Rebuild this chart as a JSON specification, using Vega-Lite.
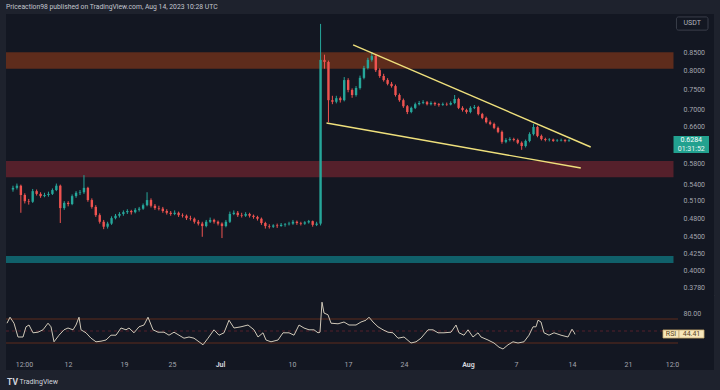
{
  "$schema": "https://vega.github.io/schema/vega-lite/v6.json",
  "background": "#1e222d",
  "padding": {"left": 5, "top": 4, "right": 7, "bottom": 5},
  "bounds": "flush",
  "spacing": 0,
  "title": {"text": "Priceaction98 published on TradingView.com, Aug 14, 2023 10:28 UTC", "anchor": "start", "frame": "group", "fontSize": 6.8, "font": "Roboto", "fontWeight": "normal", "color": "#c3c6ce", "offset": 3},
  "config": {
    "view": {"fill": "#131722", "stroke": null},
    "axis": {"labelFont": "Roboto", "titleFont": "Roboto"},
    "text": {"font": "Roboto"}
  },
  "datasets": {
    "zones": [
      {"zone": "resistance", "from": "2023-06-01T00:00", "to": "2023-08-27T06:00", "lo": 0.805, "hi": 0.852},
      {"zone": "support", "from": "2023-06-01T00:00", "to": "2023-08-27T06:00", "lo": 0.553, "hi": 0.585},
      {"zone": "demand", "from": "2023-06-01T00:00", "to": "2023-08-27T06:00", "lo": 0.411, "hi": 0.421}
    ],
    "wedge": [
      {"side": "upper", "t": "2023-07-17T15:00", "p": 0.874},
      {"side": "upper", "t": "2023-08-16T18:00", "p": 0.614},
      {"side": "lower", "t": "2023-07-14T06:00", "p": 0.667},
      {"side": "lower", "t": "2023-08-15T12:00", "p": 0.571}
    ],
    "lastPrice": [{"last": 0.6284, "countdown": "01:31:52"}],
    "rsiTag": [{"label": "RSI", "value": 44.41}],
    "rsiLevels": [{"level": 70, "kind": "band"}, {"level": 30, "kind": "band"}, {"level": 50, "kind": "middle"}],
    "candles": [
{"t":"2023-06-04T12:00","o":0.530,"h":0.537,"l":0.526,"c":0.533},
{"t":"2023-06-05T00:00","o":0.533,"h":0.541,"l":0.530,"c":0.537},
{"t":"2023-06-05T12:00","o":0.537,"h":0.539,"l":0.489,"c":0.520},
{"t":"2023-06-06T00:00","o":0.520,"h":0.523,"l":0.505,"c":0.509},
{"t":"2023-06-06T12:00","o":0.509,"h":0.513,"l":0.503,"c":0.508},
{"t":"2023-06-07T00:00","o":0.508,"h":0.531,"l":0.506,"c":0.527},
{"t":"2023-06-07T12:00","o":0.527,"h":0.530,"l":0.519,"c":0.522},
{"t":"2023-06-08T00:00","o":0.522,"h":0.525,"l":0.515,"c":0.518},
{"t":"2023-06-08T12:00","o":0.518,"h":0.524,"l":0.516,"c":0.520},
{"t":"2023-06-09T00:00","o":0.520,"h":0.526,"l":0.517,"c":0.522},
{"t":"2023-06-09T12:00","o":0.522,"h":0.532,"l":0.520,"c":0.529},
{"t":"2023-06-10T00:00","o":0.529,"h":0.541,"l":0.527,"c":0.537},
{"t":"2023-06-10T12:00","o":0.537,"h":0.539,"l":0.472,"c":0.497},
{"t":"2023-06-11T00:00","o":0.497,"h":0.509,"l":0.494,"c":0.506},
{"t":"2023-06-11T12:00","o":0.506,"h":0.509,"l":0.500,"c":0.504},
{"t":"2023-06-12T00:00","o":0.504,"h":0.521,"l":0.502,"c":0.518},
{"t":"2023-06-12T12:00","o":0.518,"h":0.527,"l":0.515,"c":0.524},
{"t":"2023-06-13T00:00","o":0.524,"h":0.529,"l":0.520,"c":0.525},
{"t":"2023-06-13T12:00","o":0.525,"h":0.557,"l":0.522,"c":0.533},
{"t":"2023-06-14T00:00","o":0.533,"h":0.535,"l":0.508,"c":0.511},
{"t":"2023-06-14T12:00","o":0.511,"h":0.514,"l":0.496,"c":0.499},
{"t":"2023-06-15T00:00","o":0.499,"h":0.502,"l":0.482,"c":0.485},
{"t":"2023-06-15T12:00","o":0.485,"h":0.488,"l":0.471,"c":0.474},
{"t":"2023-06-16T00:00","o":0.474,"h":0.477,"l":0.462,"c":0.466},
{"t":"2023-06-16T12:00","o":0.466,"h":0.474,"l":0.463,"c":0.471},
{"t":"2023-06-17T00:00","o":0.471,"h":0.483,"l":0.469,"c":0.480},
{"t":"2023-06-17T12:00","o":0.480,"h":0.487,"l":0.478,"c":0.484},
{"t":"2023-06-18T00:00","o":0.484,"h":0.490,"l":0.481,"c":0.487},
{"t":"2023-06-18T12:00","o":0.487,"h":0.493,"l":0.484,"c":0.490},
{"t":"2023-06-19T00:00","o":0.490,"h":0.495,"l":0.487,"c":0.492},
{"t":"2023-06-19T12:00","o":0.492,"h":0.494,"l":0.486,"c":0.490},
{"t":"2023-06-20T00:00","o":0.490,"h":0.497,"l":0.488,"c":0.494},
{"t":"2023-06-20T12:00","o":0.494,"h":0.499,"l":0.491,"c":0.496},
{"t":"2023-06-21T00:00","o":0.496,"h":0.505,"l":0.494,"c":0.502},
{"t":"2023-06-21T12:00","o":0.502,"h":0.525,"l":0.500,"c":0.511},
{"t":"2023-06-22T00:00","o":0.511,"h":0.514,"l":0.498,"c":0.501},
{"t":"2023-06-22T12:00","o":0.501,"h":0.504,"l":0.494,"c":0.497},
{"t":"2023-06-23T00:00","o":0.497,"h":0.501,"l":0.493,"c":0.496},
{"t":"2023-06-23T12:00","o":0.496,"h":0.499,"l":0.489,"c":0.492},
{"t":"2023-06-24T00:00","o":0.492,"h":0.495,"l":0.486,"c":0.489},
{"t":"2023-06-24T12:00","o":0.489,"h":0.492,"l":0.484,"c":0.487},
{"t":"2023-06-25T00:00","o":0.487,"h":0.493,"l":0.485,"c":0.489},
{"t":"2023-06-25T12:00","o":0.489,"h":0.491,"l":0.482,"c":0.485},
{"t":"2023-06-26T00:00","o":0.485,"h":0.488,"l":0.481,"c":0.484},
{"t":"2023-06-26T12:00","o":0.484,"h":0.486,"l":0.477,"c":0.480},
{"t":"2023-06-27T00:00","o":0.480,"h":0.484,"l":0.476,"c":0.479},
{"t":"2023-06-27T12:00","o":0.479,"h":0.481,"l":0.471,"c":0.474},
{"t":"2023-06-28T00:00","o":0.474,"h":0.477,"l":0.468,"c":0.471},
{"t":"2023-06-28T12:00","o":0.471,"h":0.474,"l":0.450,"c":0.467},
{"t":"2023-06-29T00:00","o":0.467,"h":0.477,"l":0.465,"c":0.474},
{"t":"2023-06-29T12:00","o":0.474,"h":0.481,"l":0.472,"c":0.477},
{"t":"2023-06-30T00:00","o":0.477,"h":0.479,"l":0.471,"c":0.474},
{"t":"2023-06-30T12:00","o":0.474,"h":0.476,"l":0.468,"c":0.471},
{"t":"2023-07-01T00:00","o":0.471,"h":0.473,"l":0.448,"c":0.467},
{"t":"2023-07-01T12:00","o":0.467,"h":0.477,"l":0.465,"c":0.474},
{"t":"2023-07-02T00:00","o":0.474,"h":0.491,"l":0.472,"c":0.487},
{"t":"2023-07-02T12:00","o":0.487,"h":0.493,"l":0.485,"c":0.489},
{"t":"2023-07-03T00:00","o":0.489,"h":0.492,"l":0.482,"c":0.485},
{"t":"2023-07-03T12:00","o":0.485,"h":0.489,"l":0.481,"c":0.484},
{"t":"2023-07-04T00:00","o":0.484,"h":0.490,"l":0.482,"c":0.487},
{"t":"2023-07-04T12:00","o":0.487,"h":0.489,"l":0.481,"c":0.484},
{"t":"2023-07-05T00:00","o":0.484,"h":0.486,"l":0.479,"c":0.482},
{"t":"2023-07-05T12:00","o":0.482,"h":0.484,"l":0.476,"c":0.479},
{"t":"2023-07-06T00:00","o":0.479,"h":0.481,"l":0.469,"c":0.472},
{"t":"2023-07-06T12:00","o":0.472,"h":0.474,"l":0.463,"c":0.467},
{"t":"2023-07-07T00:00","o":0.467,"h":0.470,"l":0.463,"c":0.466},
{"t":"2023-07-07T12:00","o":0.466,"h":0.470,"l":0.464,"c":0.468},
{"t":"2023-07-08T00:00","o":0.468,"h":0.471,"l":0.464,"c":0.467},
{"t":"2023-07-08T12:00","o":0.467,"h":0.472,"l":0.466,"c":0.469},
{"t":"2023-07-09T00:00","o":0.469,"h":0.472,"l":0.466,"c":0.470},
{"t":"2023-07-09T12:00","o":0.470,"h":0.474,"l":0.468,"c":0.471},
{"t":"2023-07-10T00:00","o":0.471,"h":0.477,"l":0.469,"c":0.474},
{"t":"2023-07-10T12:00","o":0.474,"h":0.476,"l":0.469,"c":0.472},
{"t":"2023-07-11T00:00","o":0.472,"h":0.474,"l":0.468,"c":0.471},
{"t":"2023-07-11T12:00","o":0.471,"h":0.475,"l":0.469,"c":0.473},
{"t":"2023-07-12T00:00","o":0.473,"h":0.477,"l":0.471,"c":0.475},
{"t":"2023-07-12T12:00","o":0.475,"h":0.476,"l":0.466,"c":0.469},
{"t":"2023-07-13T00:00","o":0.469,"h":0.474,"l":0.467,"c":0.471},
{"t":"2023-07-13T12:00","o":0.471,"h":0.940,"l":0.468,"c":0.830},
{"t":"2023-07-14T00:00","o":0.830,"h":0.845,"l":0.805,"c":0.824},
{"t":"2023-07-14T12:00","o":0.824,"h":0.828,"l":0.669,"c":0.722},
{"t":"2023-07-15T00:00","o":0.722,"h":0.733,"l":0.712,"c":0.718},
{"t":"2023-07-15T12:00","o":0.718,"h":0.733,"l":0.714,"c":0.727},
{"t":"2023-07-16T00:00","o":0.727,"h":0.731,"l":0.716,"c":0.722},
{"t":"2023-07-16T12:00","o":0.722,"h":0.782,"l":0.719,"c":0.774},
{"t":"2023-07-17T00:00","o":0.774,"h":0.779,"l":0.742,"c":0.748},
{"t":"2023-07-17T12:00","o":0.748,"h":0.752,"l":0.728,"c":0.735},
{"t":"2023-07-18T00:00","o":0.735,"h":0.758,"l":0.731,"c":0.753},
{"t":"2023-07-18T12:00","o":0.753,"h":0.786,"l":0.749,"c":0.780},
{"t":"2023-07-19T00:00","o":0.780,"h":0.813,"l":0.776,"c":0.807},
{"t":"2023-07-19T12:00","o":0.807,"h":0.836,"l":0.803,"c":0.830},
{"t":"2023-07-20T00:00","o":0.830,"h":0.853,"l":0.825,"c":0.841},
{"t":"2023-07-20T12:00","o":0.841,"h":0.846,"l":0.796,"c":0.801},
{"t":"2023-07-21T00:00","o":0.801,"h":0.806,"l":0.780,"c":0.785},
{"t":"2023-07-21T12:00","o":0.785,"h":0.791,"l":0.770,"c":0.774},
{"t":"2023-07-22T00:00","o":0.774,"h":0.779,"l":0.760,"c":0.764},
{"t":"2023-07-22T12:00","o":0.764,"h":0.769,"l":0.754,"c":0.758},
{"t":"2023-07-23T00:00","o":0.758,"h":0.762,"l":0.731,"c":0.735},
{"t":"2023-07-23T12:00","o":0.735,"h":0.739,"l":0.718,"c":0.722},
{"t":"2023-07-24T00:00","o":0.722,"h":0.726,"l":0.703,"c":0.707},
{"t":"2023-07-24T12:00","o":0.707,"h":0.710,"l":0.688,"c":0.693},
{"t":"2023-07-25T00:00","o":0.693,"h":0.706,"l":0.690,"c":0.703},
{"t":"2023-07-25T12:00","o":0.703,"h":0.716,"l":0.700,"c":0.712},
{"t":"2023-07-26T00:00","o":0.712,"h":0.720,"l":0.709,"c":0.715},
{"t":"2023-07-26T12:00","o":0.715,"h":0.722,"l":0.712,"c":0.717},
{"t":"2023-07-27T00:00","o":0.717,"h":0.720,"l":0.709,"c":0.712},
{"t":"2023-07-27T12:00","o":0.712,"h":0.719,"l":0.709,"c":0.715},
{"t":"2023-07-28T00:00","o":0.715,"h":0.718,"l":0.708,"c":0.712},
{"t":"2023-07-28T12:00","o":0.712,"h":0.715,"l":0.706,"c":0.710},
{"t":"2023-07-29T00:00","o":0.710,"h":0.716,"l":0.708,"c":0.712},
{"t":"2023-07-29T12:00","o":0.712,"h":0.716,"l":0.708,"c":0.711},
{"t":"2023-07-30T00:00","o":0.711,"h":0.719,"l":0.709,"c":0.715},
{"t":"2023-07-30T12:00","o":0.715,"h":0.735,"l":0.712,"c":0.725},
{"t":"2023-07-31T00:00","o":0.725,"h":0.728,"l":0.700,"c":0.703},
{"t":"2023-07-31T12:00","o":0.703,"h":0.707,"l":0.694,"c":0.698},
{"t":"2023-08-01T00:00","o":0.698,"h":0.701,"l":0.689,"c":0.693},
{"t":"2023-08-01T12:00","o":0.693,"h":0.707,"l":0.690,"c":0.703},
{"t":"2023-08-02T00:00","o":0.703,"h":0.710,"l":0.700,"c":0.705},
{"t":"2023-08-02T12:00","o":0.705,"h":0.708,"l":0.685,"c":0.688},
{"t":"2023-08-03T00:00","o":0.688,"h":0.691,"l":0.676,"c":0.679},
{"t":"2023-08-03T12:00","o":0.679,"h":0.682,"l":0.666,"c":0.669},
{"t":"2023-08-04T00:00","o":0.669,"h":0.673,"l":0.662,"c":0.665},
{"t":"2023-08-04T12:00","o":0.665,"h":0.668,"l":0.653,"c":0.656},
{"t":"2023-08-05T00:00","o":0.656,"h":0.659,"l":0.644,"c":0.647},
{"t":"2023-08-05T12:00","o":0.647,"h":0.650,"l":0.621,"c":0.625},
{"t":"2023-08-06T00:00","o":0.625,"h":0.633,"l":0.622,"c":0.629},
{"t":"2023-08-06T12:00","o":0.629,"h":0.635,"l":0.626,"c":0.631},
{"t":"2023-08-07T00:00","o":0.631,"h":0.634,"l":0.626,"c":0.629},
{"t":"2023-08-07T12:00","o":0.629,"h":0.632,"l":0.620,"c":0.623},
{"t":"2023-08-08T00:00","o":0.623,"h":0.626,"l":0.608,"c":0.616},
{"t":"2023-08-08T12:00","o":0.616,"h":0.630,"l":0.613,"c":0.627},
{"t":"2023-08-09T00:00","o":0.627,"h":0.646,"l":0.624,"c":0.642},
{"t":"2023-08-09T12:00","o":0.642,"h":0.665,"l":0.639,"c":0.658},
{"t":"2023-08-10T00:00","o":0.658,"h":0.661,"l":0.635,"c":0.638},
{"t":"2023-08-10T12:00","o":0.638,"h":0.641,"l":0.628,"c":0.631},
{"t":"2023-08-11T00:00","o":0.631,"h":0.634,"l":0.626,"c":0.629},
{"t":"2023-08-11T12:00","o":0.629,"h":0.633,"l":0.626,"c":0.630},
{"t":"2023-08-12T00:00","o":0.630,"h":0.632,"l":0.625,"c":0.627},
{"t":"2023-08-12T12:00","o":0.627,"h":0.631,"l":0.625,"c":0.628},
{"t":"2023-08-13T00:00","o":0.628,"h":0.632,"l":0.626,"c":0.629},
{"t":"2023-08-13T12:00","o":0.629,"h":0.631,"l":0.624,"c":0.627},
{"t":"2023-08-14T00:00","o":0.627,"h":0.631,"l":0.625,"c":0.6284}
    ],
    "rsi": [
{"t":"2023-06-04T09:00","rsi":63},{"t":"2023-06-04T18:00","rsi":73},{"t":"2023-06-05T06:00","rsi":63},{"t":"2023-06-05T18:00","rsi":40},
{"t":"2023-06-06T09:00","rsi":40},{"t":"2023-06-06T18:00","rsi":57},{"t":"2023-06-07T03:00","rsi":60},{"t":"2023-06-07T15:00","rsi":47},
{"t":"2023-06-08T06:00","rsi":48},{"t":"2023-06-08T21:00","rsi":52},{"t":"2023-06-09T12:00","rsi":63},{"t":"2023-06-09T21:00","rsi":57},
{"t":"2023-06-10T06:00","rsi":32},{"t":"2023-06-10T21:00","rsi":43},{"t":"2023-06-11T12:00","rsi":52},{"t":"2023-06-12T00:00","rsi":55},
{"t":"2023-06-12T15:00","rsi":52},{"t":"2023-06-13T00:00","rsi":60},{"t":"2023-06-13T09:00","rsi":73},{"t":"2023-06-13T15:00","rsi":52},
{"t":"2023-06-14T06:00","rsi":47},{"t":"2023-06-14T21:00","rsi":38},{"t":"2023-06-15T12:00","rsi":32},{"t":"2023-06-16T03:00","rsi":33},
{"t":"2023-06-16T18:00","rsi":35},{"t":"2023-06-17T09:00","rsi":43},{"t":"2023-06-18T00:00","rsi":43},{"t":"2023-06-18T15:00","rsi":55},
{"t":"2023-06-19T06:00","rsi":52},{"t":"2023-06-19T15:00","rsi":55},{"t":"2023-06-20T06:00","rsi":47},{"t":"2023-06-20T21:00","rsi":57},
{"t":"2023-06-21T12:00","rsi":60},{"t":"2023-06-22T00:00","rsi":73},{"t":"2023-06-22T15:00","rsi":52},{"t":"2023-06-23T06:00","rsi":48},
{"t":"2023-06-24T00:00","rsi":48},{"t":"2023-06-24T15:00","rsi":43},{"t":"2023-06-25T06:00","rsi":48},{"t":"2023-06-25T21:00","rsi":43},
{"t":"2023-06-26T12:00","rsi":38},{"t":"2023-06-27T03:00","rsi":40},{"t":"2023-06-27T18:00","rsi":38},{"t":"2023-06-28T09:00","rsi":32},
{"t":"2023-06-28T21:00","rsi":27},{"t":"2023-06-29T12:00","rsi":38},{"t":"2023-06-30T06:00","rsi":52},{"t":"2023-06-30T21:00","rsi":43},
{"t":"2023-07-01T12:00","rsi":47},{"t":"2023-07-02T03:00","rsi":68},{"t":"2023-07-02T18:00","rsi":55},{"t":"2023-07-03T15:00","rsi":57},
{"t":"2023-07-04T12:00","rsi":60},{"t":"2023-07-05T06:00","rsi":52},{"t":"2023-07-05T18:00","rsi":40},{"t":"2023-07-06T09:00","rsi":47},
{"t":"2023-07-06T18:00","rsi":35},{"t":"2023-07-07T09:00","rsi":32},{"t":"2023-07-08T06:00","rsi":35},{"t":"2023-07-08T21:00","rsi":47},
{"t":"2023-07-09T15:00","rsi":47},{"t":"2023-07-10T06:00","rsi":43},{"t":"2023-07-10T21:00","rsi":60},{"t":"2023-07-11T12:00","rsi":55},
{"t":"2023-07-12T03:00","rsi":52},{"t":"2023-07-12T18:00","rsi":52},{"t":"2023-07-13T06:00","rsi":47},{"t":"2023-07-13T12:00","rsi":48},
{"t":"2023-07-13T18:00","rsi":98},{"t":"2023-07-14T00:00","rsi":80},{"t":"2023-07-14T12:00","rsi":77},{"t":"2023-07-14T21:00","rsi":63},
{"t":"2023-07-15T18:00","rsi":62},{"t":"2023-07-16T12:00","rsi":65},{"t":"2023-07-17T03:00","rsi":60},{"t":"2023-07-18T00:00","rsi":60},
{"t":"2023-07-18T15:00","rsi":65},{"t":"2023-07-19T06:00","rsi":68},{"t":"2023-07-19T15:00","rsi":73},{"t":"2023-07-20T03:00","rsi":65},
{"t":"2023-07-20T18:00","rsi":57},{"t":"2023-07-21T09:00","rsi":52},{"t":"2023-07-22T00:00","rsi":48},{"t":"2023-07-22T15:00","rsi":47},
{"t":"2023-07-23T06:00","rsi":38},{"t":"2023-07-24T00:00","rsi":40},{"t":"2023-07-24T21:00","rsi":30},{"t":"2023-07-25T12:00","rsi":32},
{"t":"2023-07-26T03:00","rsi":38},{"t":"2023-07-27T00:00","rsi":52},{"t":"2023-07-27T15:00","rsi":52},{"t":"2023-07-28T06:00","rsi":47},
{"t":"2023-07-29T00:00","rsi":47},{"t":"2023-07-29T21:00","rsi":48},{"t":"2023-07-30T12:00","rsi":60},{"t":"2023-07-30T21:00","rsi":47},
{"t":"2023-07-31T12:00","rsi":43},{"t":"2023-08-01T00:00","rsi":52},{"t":"2023-08-01T15:00","rsi":40},{"t":"2023-08-02T06:00","rsi":47},
{"t":"2023-08-02T15:00","rsi":40},{"t":"2023-08-03T12:00","rsi":35},{"t":"2023-08-04T06:00","rsi":30},{"t":"2023-08-04T21:00","rsi":23},
{"t":"2023-08-05T09:00","rsi":20},{"t":"2023-08-06T00:00","rsi":27},{"t":"2023-08-06T15:00","rsi":32},{"t":"2023-08-07T06:00","rsi":30},
{"t":"2023-08-08T00:00","rsi":32},{"t":"2023-08-08T15:00","rsi":43},{"t":"2023-08-09T03:00","rsi":57},{"t":"2023-08-09T12:00","rsi":57},
{"t":"2023-08-09T18:00","rsi":68},{"t":"2023-08-10T03:00","rsi":65},{"t":"2023-08-10T12:00","rsi":47},{"t":"2023-08-11T03:00","rsi":43},
{"t":"2023-08-11T18:00","rsi":47},{"t":"2023-08-12T15:00","rsi":43},{"t":"2023-08-13T12:00","rsi":40},{"t":"2023-08-14T00:00","rsi":53},
{"t":"2023-08-14T06:00","rsi":48},{"t":"2023-08-14T09:00","rsi":44.41}
    ]
  },
  "vconcat": [
    {
      "width": 708,
      "height": 281,
      "layer": [
        {
          "data": {"name": "zones"},
          "mark": {"type": "rect", "clip": true},
          "encoding": {
            "x": {"field": "from", "type": "temporal",
              "scale": {"domain": [{"year": 2023, "month": 6, "date": 4, "hours": 6}, {"year": 2023, "month": 8, "date": 31, "hours": 18}], "nice": false},
              "axis": {"labels": false, "ticks": false, "grid": false, "domain": true, "domainColor": "#2a2e39", "domainWidth": 1,
                "title": "TV", "titleX": 6, "titleY": 86, "titleAlign": "center", "titleBaseline": "middle", "titleFontSize": 8.5, "titleFontWeight": "bold", "titleColor": "#d1d4dc"}},
            "x2": {"field": "to"},
            "y": {"field": "lo", "type": "quantitative",
              "scale": {"type": "log", "domain": [0.3679, 0.9728], "nice": false},
              "axis": {"orient": "right", "values": [0.378, 0.4, 0.425, 0.45, 0.48, 0.51, 0.54, 0.58, 0.66, 0.7, 0.75, 0.8, 0.85], "format": ".4f",
                "labelAlign": "left", "labelBaseline": "middle", "labelPadding": -31, "ticks": false, "tickSize": 0, "domain": false, "grid": false, "title": null,
                "labelColor": "#a3a6af", "labelFontSize": 7, "labelOverlap": false, "labelBound": false, "labelFlush": false}},
            "y2": {"field": "hi"},
            "color": {"field": "zone", "type": "nominal", "scale": {"domain": ["resistance", "support", "demand"], "range": ["#5e2c1c", "#55202b", "#10606a"]}, "legend": null}
          }
        },
        {
          "data": {"name": "candles"},
          "mark": {"type": "rule", "strokeWidth": 1},
          "encoding": {
            "x": {"field": "t", "type": "temporal"},
            "y": {"field": "l", "type": "quantitative"},
            "y2": {"field": "h"},
            "color": {"condition": {"test": "datum.c >= datum.o", "value": "#26a69a"}, "value": "#ef5350"}
          }
        },
        {
          "data": {"name": "candles"},
          "mark": {"type": "bar", "width": 2.4},
          "encoding": {
            "x": {"field": "t", "type": "temporal"},
            "y": {"field": "o", "type": "quantitative"},
            "y2": {"field": "c"},
            "color": {"condition": {"test": "datum.c >= datum.o", "value": "#26a69a"}, "value": "#ef5350"}
          }
        },
        {
          "data": {"name": "wedge"},
          "mark": {"type": "line", "color": "#efe07c", "strokeWidth": 1.4},
          "encoding": {
            "x": {"field": "t", "type": "temporal"},
            "y": {"field": "p", "type": "quantitative"},
            "detail": {"field": "side"}
          }
        },
        {
          "data": {"name": "lastPrice"},
          "mark": {"type": "rect", "color": "#22a18f"},
          "encoding": {
            "x": {"datum": {"year": 2023, "month": 8, "date": 27, "hours": 6}, "type": "temporal"},
            "x2": {"datum": {"year": 2023, "month": 8, "date": 31, "hours": 18}},
            "y": {"datum": 0.6378, "type": "quantitative"},
            "y2": {"datum": 0.6014}
          }
        },
        {
          "data": {"name": "lastPrice"},
          "mark": {"type": "text", "color": "#ffffff", "fontSize": 7, "align": "center", "baseline": "middle"},
          "encoding": {
            "x": {"datum": {"year": 2023, "month": 8, "date": 29, "hours": 12}, "type": "temporal"},
            "y": {"field": "last", "type": "quantitative"},
            "text": {"field": "last", "type": "quantitative", "format": ".4f"}
          }
        },
        {
          "data": {"name": "lastPrice"},
          "mark": {"type": "text", "color": "#e8f5f2", "fontSize": 7, "align": "center", "baseline": "middle", "dy": 8.5},
          "encoding": {
            "x": {"datum": {"year": 2023, "month": 8, "date": 29, "hours": 12}, "type": "temporal"},
            "y": {"field": "last", "type": "quantitative"},
            "text": {"field": "countdown", "type": "nominal"}
          }
        },
        {
          "data": {"values": [{"unit": "USDT"}]},
          "mark": {"type": "rect", "fill": null, "stroke": "#3a3e4a", "strokeWidth": 1, "cornerRadius": 2},
          "encoding": {
            "x": {"datum": {"year": 2023, "month": 8, "date": 27, "hours": 15}, "type": "temporal"},
            "x2": {"datum": {"year": 2023, "month": 8, "date": 31, "hours": 15}},
            "y": {"datum": 0.963, "type": "quantitative"},
            "y2": {"datum": 0.920}
          }
        },
        {
          "data": {"values": [{"unit": "USDT"}]},
          "mark": {"type": "text", "color": "#b2b5be", "fontSize": 7, "align": "center", "baseline": "middle"},
          "encoding": {
            "x": {"datum": {"year": 2023, "month": 8, "date": 29, "hours": 15}, "type": "temporal"},
            "y": {"datum": 0.9414, "type": "quantitative"},
            "text": {"field": "unit", "type": "nominal"}
          }
        }
      ]
    },
    {
      "width": 708,
      "height": 75,
      "layer": [
        {
          "data": {"name": "rsiLevels"},
          "mark": {"type": "rule", "strokeWidth": 1},
          "encoding": {
            "x": {"datum": {"year": 2023, "month": 6, "date": 4, "hours": 6}, "type": "temporal",
              "scale": {"domain": [{"year": 2023, "month": 6, "date": 4, "hours": 6}, {"year": 2023, "month": 8, "date": 31, "hours": 18}], "nice": false},
              "axis": {"orient": "bottom",
                "values": [
                  {"year": 2023, "month": 6, "date": 6, "hours": 12},
                  {"year": 2023, "month": 6, "date": 12},
                  {"year": 2023, "month": 6, "date": 19},
                  {"year": 2023, "month": 6, "date": 25},
                  {"year": 2023, "month": 7, "date": 1},
                  {"year": 2023, "month": 7, "date": 10},
                  {"year": 2023, "month": 7, "date": 17},
                  {"year": 2023, "month": 7, "date": 24},
                  {"year": 2023, "month": 8, "date": 1},
                  {"year": 2023, "month": 8, "date": 7},
                  {"year": 2023, "month": 8, "date": 14},
                  {"year": 2023, "month": 8, "date": 21},
                  {"year": 2023, "month": 8, "date": 26, "hours": 12}
                ],
                "labelExpr": "hours(datum.value) == 12 ? (month(datum.value) == 5 ? '12:00' : '12:0') : (date(datum.value) == 1 ? timeFormat(datum.value, '%b') : timeFormat(datum.value, '%-d'))",
                "labelPadding": -10, "ticks": false, "tickSize": 0, "domain": false, "grid": false,
                "labelFontSize": 7, "labelOverlap": false, "labelFlush": false, "labelBound": false,
                "labelColor": {"condition": {"test": "date(datum.value) == 1 && hours(datum.value) == 0", "value": "#d1d4dc"}, "value": "#a3a6af"},
                "labelFontWeight": {"condition": {"test": "date(datum.value) == 1 && hours(datum.value) == 0", "value": "bold"}, "value": "normal"},
                "title": "TradingView", "titleX": 13, "titleY": 11, "titleAlign": "left", "titleBaseline": "middle", "titleFontSize": 7, "titleFontWeight": "normal", "titleColor": "#d1d4dc"}},
            "x2": {"datum": {"year": 2023, "month": 8, "date": 27, "hours": 6}},
            "y": {"field": "level", "type": "quantitative",
              "scale": {"domain": [-15, 110], "nice": false},
              "axis": {"orient": "right", "values": [80], "format": ".2f", "labelAlign": "left", "labelBaseline": "middle", "labelPadding": -31,
                "ticks": false, "tickSize": 0, "domain": false, "grid": false, "title": null, "labelColor": "#a3a6af", "labelFontSize": 7, "labelBound": false, "labelFlush": false}},
            "color": {"field": "kind", "type": "nominal", "scale": {"domain": ["band", "middle"], "range": ["#363a45", "#4a4e5a"]}, "legend": null},
            "strokeDash": {"field": "kind", "type": "nominal", "scale": {"domain": ["band", "middle"], "range": [[1, 0], [3, 3]]}, "legend": null}
          }
        },
        {
          "data": {"name": "rsi"},
          "mark": {"type": "line", "color": "#cfc8b8", "strokeWidth": 1},
          "encoding": {
            "x": {"field": "t", "type": "temporal"},
            "y": {"field": "rsi", "type": "quantitative"}
          }
        },
        {
          "data": {"name": "rsiTag"},
          "mark": {"type": "rect", "fill": "#f6e6bb", "stroke": "#c8aa6e", "strokeWidth": 0.8},
          "encoding": {
            "x": {"datum": {"year": 2023, "month": 8, "date": 25, "hours": 9}, "type": "temporal"},
            "x2": {"datum": {"year": 2023, "month": 8, "date": 27, "hours": 9}},
            "y": {"datum": 51.7, "type": "quantitative"},
            "y2": {"datum": 38.3}
          }
        },
        {
          "data": {"name": "rsiTag"},
          "mark": {"type": "rect", "fill": "#f6e6bb", "stroke": "#c8aa6e", "strokeWidth": 0.8},
          "encoding": {
            "x": {"datum": {"year": 2023, "month": 8, "date": 27, "hours": 9}, "type": "temporal"},
            "x2": {"datum": {"year": 2023, "month": 8, "date": 30, "hours": 12}},
            "y": {"datum": 51.7, "type": "quantitative"},
            "y2": {"datum": 38.3}
          }
        },
        {
          "data": {"name": "rsiTag"},
          "mark": {"type": "text", "color": "#5a4522", "fontSize": 7, "align": "center", "baseline": "middle"},
          "encoding": {
            "x": {"datum": {"year": 2023, "month": 8, "date": 26, "hours": 9}, "type": "temporal"},
            "y": {"field": "value", "type": "quantitative"},
            "text": {"field": "label", "type": "nominal"}
          }
        },
        {
          "data": {"name": "rsiTag"},
          "mark": {"type": "text", "color": "#5a4522", "fontSize": 7, "align": "center", "baseline": "middle"},
          "encoding": {
            "x": {"datum": {"year": 2023, "month": 8, "date": 28, "hours": 22, "minutes": 30}, "type": "temporal"},
            "y": {"field": "value", "type": "quantitative"},
            "text": {"field": "value", "type": "quantitative", "format": ".2f"}
          }
        }
      ]
    }
  ]
}
